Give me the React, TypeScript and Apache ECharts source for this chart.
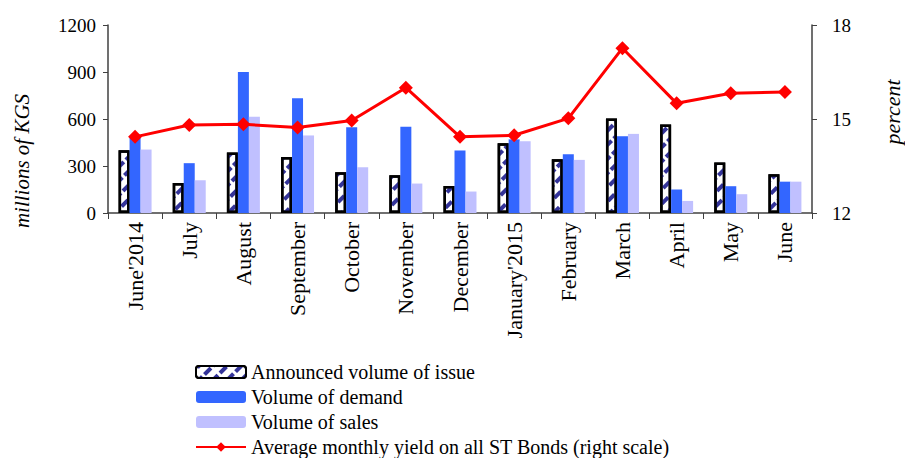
import React, { useEffect, useRef } from "react";
import * as echarts from "echarts";

const categories = [
  "June'2014", "July", "August", "September", "October", "November", "December",
  "January'2015", "February", "March", "April", "May", "June",
];
const announced = [400, 192, 386, 358, 260, 241, 173, 446, 343, 603, 565, 322, 247];
const demand = [480, 318, 900, 733, 548, 550, 399, 470, 375, 490, 150, 171, 200];
const sales = [405, 209, 614, 495, 292, 188, 137, 458, 339, 505, 77, 120, 200];
const yieldPct = [14.43, 14.81, 14.83, 14.73, 14.95, 16.0, 14.43, 14.48, 15.02, 17.26, 15.5, 15.82, 15.86];

const seriesNames = [
  "Announced volume of issue",
  "Volume of demand",
  "Volume of sales",
  "Average monthly yield on all ST Bonds (right scale)",
];

const FONT = '"Liberation Serif", "Times New Roman", serif';

export default function App() {
  const ref = useRef<HTMLDivElement>(null);
  useEffect(() => {
    if (!ref.current) return;
    const chart = echarts.init(ref.current, null, { renderer: "svg" });
    const axisLine = { show: true, lineStyle: { color: "#404040", width: 1.5 } };
    chart.setOption({
      animation: false,
      textStyle: { fontFamily: FONT, color: "#000" },
      grid: { left: 108, right: 93, top: 25, bottom: 245, containLabel: false },
      legend: {
        orient: "vertical",
        left: 195,
        top: 360,
        height: 110,
        itemWidth: 50,
        itemHeight: 12,
        itemGap: 1,
        padding: 0,
        textStyle: { fontFamily: FONT, fontSize: 20, color: "#000", lineHeight: 24 },
        data: seriesNames,
      },
      xAxis: {
        type: "category",
        data: categories,
        axisLine,
        axisTick: { show: true, alignWithLabel: false, length: 6, lineStyle: { color: "#404040" } },
        axisLabel: { rotate: 90, fontSize: 22, fontFamily: FONT, color: "#000", margin: 9, interval: 0 },
        splitLine: { show: false },
      },
      yAxis: [
        {
          type: "value",
          min: 0,
          max: 1200,
          interval: 300,
          position: "left",
          axisLine,
          axisTick: { show: true, length: 5, lineStyle: { color: "#404040" } },
          axisLabel: { fontSize: 19, fontFamily: FONT, color: "#000", margin: 12, formatter: (v: number) => String(v) },
          splitLine: { show: false },
        },
        {
          type: "value",
          min: 12,
          max: 18,
          interval: 3,
          position: "right",
          axisLine,
          axisTick: { show: true, length: 5, lineStyle: { color: "#404040" } },
          axisLabel: { fontSize: 19, fontFamily: FONT, color: "#000", margin: 20, formatter: (v: number) => String(v) },
          splitLine: { show: false },
        },
      ],
      graphic: [
        {
          type: "text",
          x: 22,
          y: 161,
          rotation: Math.PI / 2,
          style: {
            text: "millions of KGS",
            fontFamily: FONT,
            fontStyle: "italic",
            fontSize: 21,
            fill: "#000",
            align: "center",
            verticalAlign: "middle",
          },
        },
        {
          type: "text",
          x: 892,
          y: 112,
          rotation: Math.PI / 2,
          style: {
            text: "percent",
            fontFamily: FONT,
            fontStyle: "italic",
            fontSize: 22,
            fill: "#000",
            align: "center",
            verticalAlign: "middle",
          },
        },
      ],
      series: [
        {
          name: seriesNames[0],
          type: "bar",
          data: announced,
          barWidth: 11,
          barGap: "0%",
          itemStyle: {
            color: "#ffffff",
            borderColor: "#000000",
            borderWidth: 2.5,
            decal: {
              symbol: "rect",
              symbolSize: 1,
              color: "#333399",
              dashArrayX: [[9, 3]],
              dashArrayY: [4, 6],
              rotation: -Math.PI / 4,
            },
          },
        },
        {
          name: seriesNames[1],
          type: "bar",
          data: demand,
          barWidth: 11,
          barGap: "0%",
          itemStyle: { color: "#3366ff" },
        },
        {
          name: seriesNames[2],
          type: "bar",
          data: sales,
          barWidth: 11,
          barGap: "0%",
          itemStyle: { color: "#c0c0ff" },
        },
        {
          name: seriesNames[3],
          type: "line",
          yAxisIndex: 1,
          data: yieldPct,
          symbol: "diamond",
          symbolSize: 14,
          lineStyle: { color: "#ff0000", width: 3 },
          itemStyle: { color: "#ff0000" },
        },
      ],
    });
    return () => chart.dispose();
  }, []);
  return (
    <div
      ref={ref}
      style={{ position: "fixed", left: 0, top: 0, width: 905, height: 458, background: "#fff" }}
    />
  );
}
